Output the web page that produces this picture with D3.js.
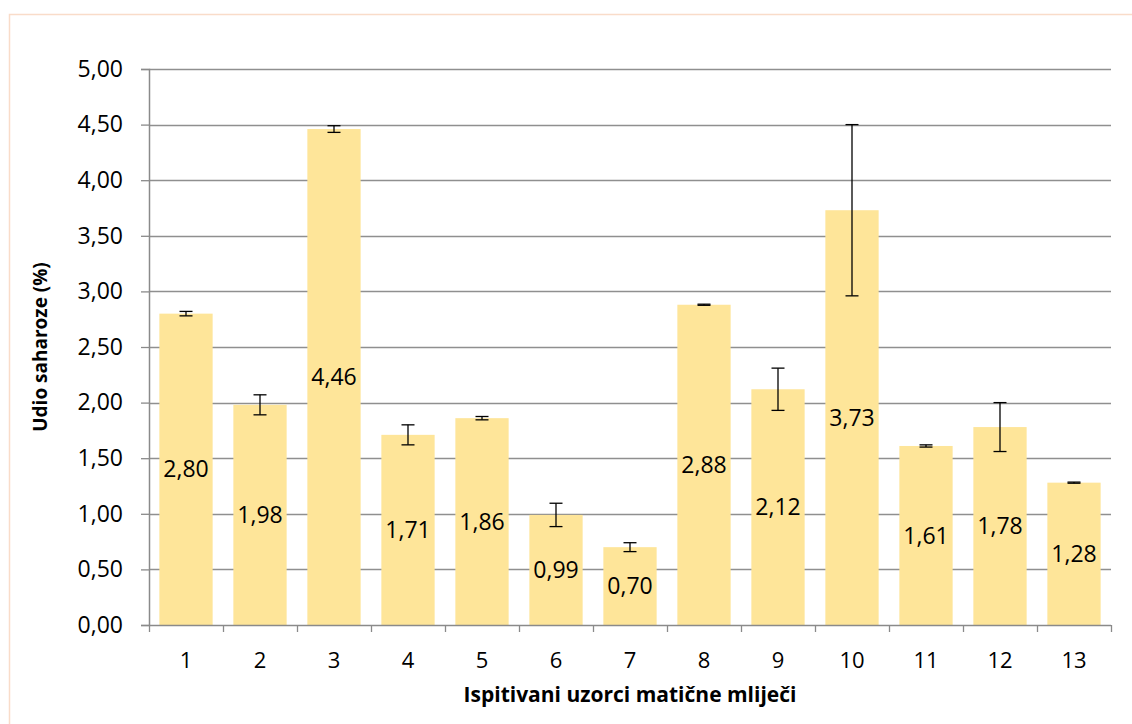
<!DOCTYPE html>
<html><head><meta charset="utf-8">
<script src="https://cdn.jsdelivr.net/npm/d3@7"></script>
<style>body{margin:0;background:#fff}svg{display:block}</style>
</head><body>
<svg id="c" width="1132" height="724"></svg>
<script>
const categories = ["1","2","3","4","5","6","7","8","9","10","11","12","13"];
const values = [2.80,1.98,4.46,1.71,1.86,0.99,0.70,2.88,2.12,3.73,1.61,1.78,1.28];
const errors = [0.02,0.09,0.03,0.09,0.015,0.105,0.04,0.005,0.19,0.77,0.01,0.22,0.005];
const yTicks = [0,0.5,1,1.5,2,2.5,3,3.5,4,4.5,5];

const svg = d3.select("#c");
const L=149, R=1111, T=69, B=625;
const fmt = v => v.toFixed(2).replace(".", ",");
const font = "'Open Sans', sans-serif";

svg.append("rect").attr("x",9.5).attr("y",14.5).attr("width",1140).attr("height",720)
  .attr("fill","#fff").attr("stroke","#f9dcc9").attr("stroke-width",1.5);

const x = d3.scaleBand().domain(categories).range([L,R]).paddingInner(0.28).paddingOuter(0.14);
const y = d3.scaleLinear().domain([0,5]).range([B,T]);

// gridlines
svg.append("g").selectAll("line").data(yTicks.slice(1)).join("line")
  .attr("x1",L).attr("x2",R).attr("y1",d=>Math.round(y(d))+0.5).attr("y2",d=>Math.round(y(d))+0.5)
  .attr("stroke","#8f8f8f").attr("stroke-width",1.3);

// y axis
const ya = svg.append("g").attr("transform",`translate(${L},0)`)
  .call(d3.axisLeft(y).tickValues(yTicks).tickFormat(fmt).tickSize(8).tickPadding(18));
ya.select(".domain").attr("stroke","#8a8a8a").attr("stroke-width",1.5);
ya.selectAll(".tick line").attr("stroke","#8a8a8a").attr("stroke-width",1.3);
ya.selectAll("text").attr("font-family",font).attr("font-size",23).attr("fill","#000");

// bars
svg.append("g").selectAll("rect").data(values).join("rect")
  .attr("x",(d,i)=>x(categories[i])).attr("width",x.bandwidth())
  .attr("y",d=>y(d)).attr("height",d=>B-y(d)).attr("fill","#fee599");

// error bars
const eg = svg.append("g").attr("stroke","#000").attr("stroke-width",1.3);
values.forEach((v,i)=>{
  const cx = x(categories[i]) + x.bandwidth()/2;
  const e = errors[i];
  eg.append("line").attr("x1",cx).attr("x2",cx).attr("y1",y(v+e)).attr("y2",y(v-e));
  [v+e, v-e].forEach(w=>eg.append("line").attr("x1",cx-6.5).attr("x2",cx+6.5).attr("y1",y(w)).attr("y2",y(w)));
});

// data labels
svg.append("g").selectAll("text").data(values).join("text")
  .attr("x",(d,i)=>x(categories[i])+x.bandwidth()/2).attr("y",d=>y(d/2))
  .attr("dy","0.35em").attr("text-anchor","middle")
  .attr("font-family",font).attr("font-size",23).attr("fill","#000").text(fmt);

// x axis
const xa = svg.append("g").attr("transform",`translate(0,${B})`);
xa.append("line").attr("x1",L).attr("x2",R).attr("y1",0.5).attr("y2",0.5).attr("stroke","#8a8a8a").attr("stroke-width",1.5);
d3.range(categories.length+1).forEach(i=>{
  const xx = Math.round(L + i*(R-L)/categories.length)+0.5;
  xa.append("line").attr("x1",xx).attr("x2",xx).attr("y1",0).attr("y2",7).attr("stroke","#8a8a8a").attr("stroke-width",1.3);
});
xa.selectAll("text.xl").data(categories).join("text").attr("class","xl")
  .attr("x",d=>x(d)+x.bandwidth()/2).attr("y",35).attr("dy","0.35em").attr("text-anchor","middle")
  .attr("font-family",font).attr("font-size",22).attr("fill","#000").text(d=>d);

// titles
svg.append("text").attr("x",630).attr("y",695).attr("dy","0.35em").attr("text-anchor","middle")
  .attr("font-family",font).attr("font-weight","bold").attr("font-size",21).text("Ispitivani uzorci matične mliječi");
svg.append("text").attr("transform","translate(40,347) rotate(-90)").attr("dy","0.35em").attr("text-anchor","middle")
  .attr("font-family",font).attr("font-weight","bold").attr("font-size",19).text("Udio saharoze (%)");
</script>
</body></html>
